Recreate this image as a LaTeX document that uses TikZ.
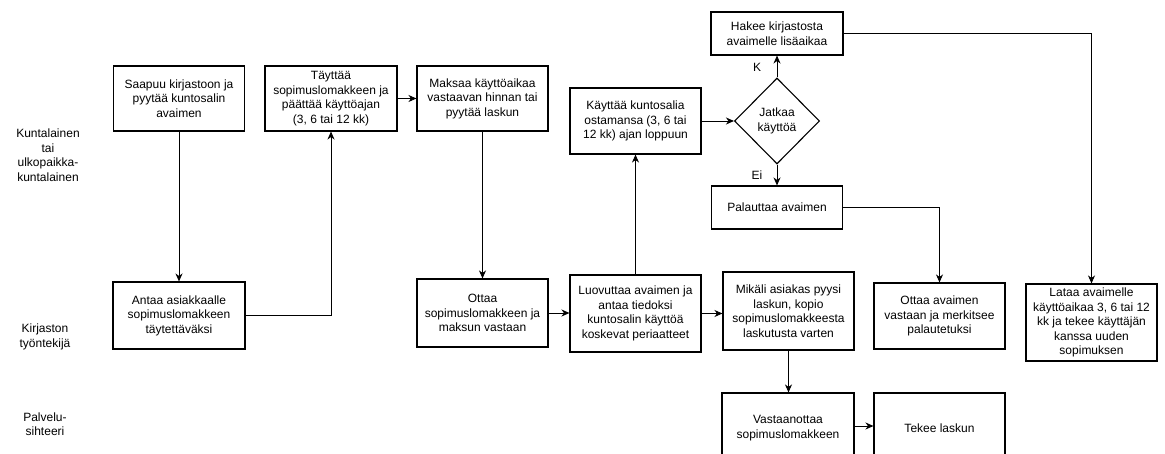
\documentclass[tikz,border=0pt]{standalone}
\usepackage{fontspec}
\setmainfont{Liberation Sans}
\usetikzlibrary{arrows.meta,shapes.geometric}
\begin{document}
\begin{tikzpicture}[x=1pt,y=-1pt,
  every node/.style={font=\fontsize{12}{14.5}\selectfont, align=center, text=black},
  box/.style={draw=black, line width=1.1pt, fill=white, inner sep=2pt},
  decide/.style={draw=black, line width=1.1pt, fill=white, shape=diamond, aspect=1, inner sep=0pt, minimum width=85pt, minimum height=86pt},
  lane/.style={inner sep=0pt},
  arr/.style={draw=black, line width=0.9pt, -{Stealth[length=8pt,width=7pt,inset=2.5pt]}},
  lbl/.style={inner sep=0pt}
]
\useasboundingbox (0,0) rectangle (1165,454);
\clip (0,0) rectangle (1165,454);

% lane titles
\node[lane] (laneA) at (48,155) {Kuntalainen\\tai\\ulkopaikka-\\kuntalainen};
\node[lane] (laneB) at (45,337) {Kirjaston\\työntekijä};
\node[lane] (laneC) at (45,424) {Palvelu-\\sihteeri};

% customer row
\node[box, minimum width=131pt, minimum height=65pt] (saapuu) at (179,98.5) {Saapuu kirjastoon ja\\pyytää kuntosalin\\avaimen};
\node[box, minimum width=132pt, minimum height=65pt] (tayttaa) at (331,98.5) {Täyttää\\sopimuslomakkeen ja\\päättää käyttöajan\\(3, 6 tai 12 kk)};
\node[box, minimum width=131pt, minimum height=65pt] (maksaa) at (482.5,98.5) {Maksaa käyttöaikaa\\vastaavan hinnan tai\\pyytää laskun};
\node[box, minimum width=131pt, minimum height=66pt] (kayttaa) at (635.5,121) {Käyttää kuntosalia\\ostamansa (3, 6 tai\\12 kk) ajan loppuun};
\node[decide] (jatkaa) at (777,121) {Jatkaa\\käyttöä};
\node[box, minimum width=132pt, minimum height=43pt] (hakee) at (777,33.5) {Hakee kirjastosta\\avaimelle lisäaikaa};
\node[box, minimum width=131pt, minimum height=43pt] (palauttaa) at (777,207.5) {Palauttaa avaimen};

% library staff row
\node[box, minimum width=132pt, minimum height=67pt] (antaa) at (179,315.5) {Antaa asiakkaalle\\sopimuslomakkeen\\täytettäväksi};
\node[box, minimum width=131pt, minimum height=68pt] (ottaa) at (482.5,313) {Ottaa\\sopimuslomakkeen ja\\maksun vastaan};
\node[box, minimum width=131pt, minimum height=77pt] (luovuttaa) at (635.5,313.5) {Luovuttaa avaimen ja\\antaa tiedoksi\\kuntosalin käyttöä\\koskevat periaatteet};
\node[box, minimum width=131pt, minimum height=78pt] (mikali) at (788.5,311) {Mikäli asiakas pyysi\\laskun, kopio\\sopimuslomakkeesta\\laskutusta varten};
\node[box, minimum width=131pt, minimum height=66pt] (ottaaav) at (939.5,316) {Ottaa avaimen\\vastaan ja merkitsee\\palautetuksi};
\node[box, minimum width=131pt, minimum height=77pt] (lataa) at (1091.5,322.5) {Lataa avaimelle\\käyttöaikaa 3, 6 tai 12\\kk ja tekee käyttäjän\\kanssa uuden\\sopimuksen};

% service secretary row
\node[box, minimum width=132pt, minimum height=70pt] (vastaan) at (788,428) {Vastaanottaa\\sopimuslomakkeen};
\node[box, minimum width=131pt, minimum height=70pt] (tekee) at (939.5,428) {Tekee laskun};

% flow
\draw[arr] (saapuu.south) -- (saapuu.south |- antaa.north);
\draw[arr] (antaa.east) -| (tayttaa.south);
\draw[arr] (tayttaa.east) -- (maksaa.west);
\draw[arr] (maksaa.south) -- (ottaa.north);
\draw[arr] (ottaa.east) -- (ottaa.east -| luovuttaa.west);
\draw[arr] (luovuttaa.north) -- (kayttaa.south);
\draw[arr] (kayttaa.east) -- (jatkaa.west);
\draw[arr] (jatkaa.north) -- (hakee.south);
\draw[arr] (jatkaa.south) -- (palauttaa.north);
\draw[arr] (hakee.east) -| (lataa.north -| 1091.5,0);
\draw[arr] (palauttaa.east) -| (ottaaav.north);
\draw[arr] (luovuttaa.east) -- (luovuttaa.east -| mikali.west);
\draw[arr] (mikali.south) -- (mikali.south |- vastaan.north);
\draw[arr] (vastaan.east |- 0,426) -- (tekee.west |- 0,426);

% decision labels
\node[lbl] (kyes) at (757,67) {K};
\node[lbl] (eino) at (757,175) {Ei};
\end{tikzpicture}
\end{document}
